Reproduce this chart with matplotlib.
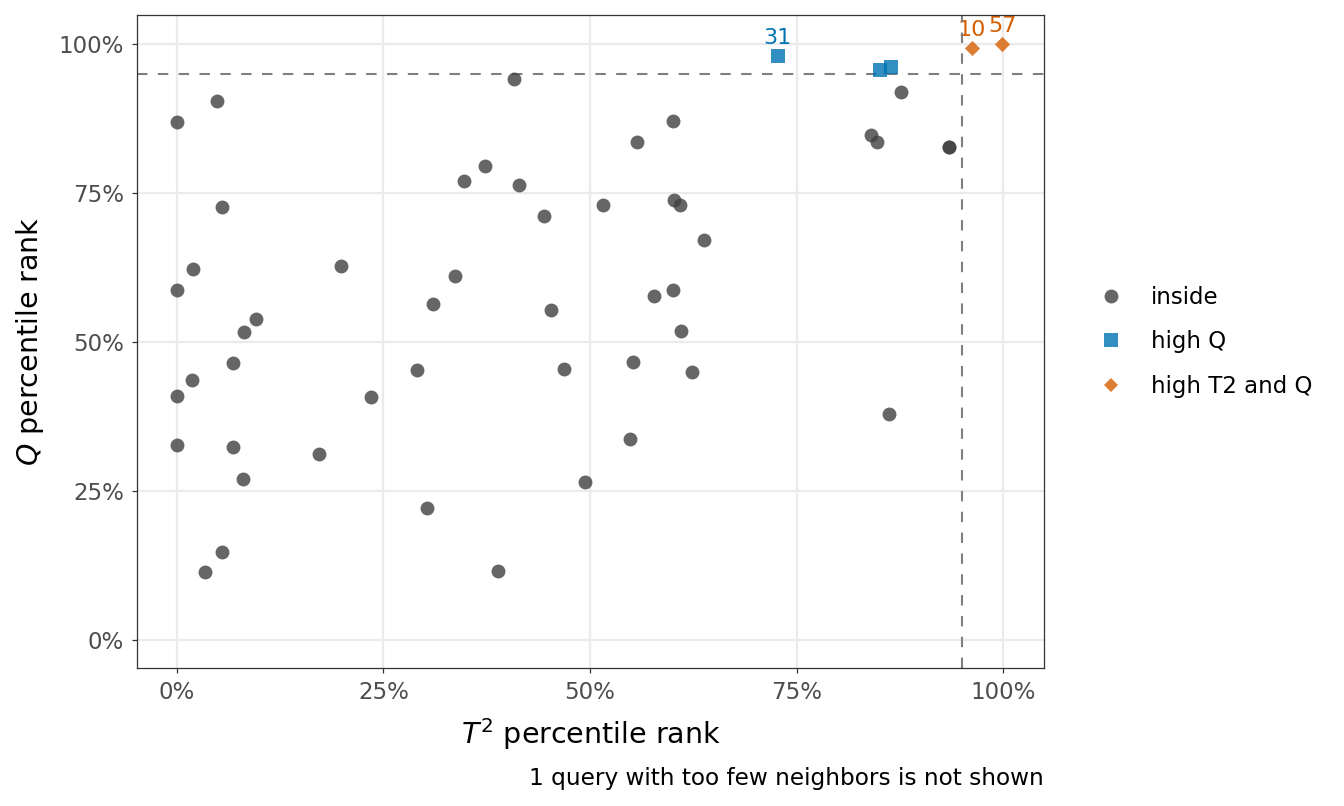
import matplotlib
matplotlib.use("Agg")
import matplotlib.pyplot as plt
from matplotlib.ticker import PercentFormatter
from matplotlib.lines import Line2D

# Dados (postos percentis T2 e Q)
inside_t2 = [0.000, 0.048, 0.000, 0.019, 0.055, 0.081, 0.096, 0.068, 0.000, 0.018,
             0.000, 0.068, 0.080, 0.054, 0.034, 0.172, 0.199, 0.235, 0.290, 0.303,
             0.310, 0.336, 0.348, 0.373, 0.408, 0.414, 0.444, 0.453, 0.469, 0.494,
             0.389, 0.516, 0.548, 0.552, 0.557, 0.578, 0.600, 0.601, 0.602, 0.609,
             0.610, 0.623, 0.638, 0.840, 0.848, 0.877, 0.862, 0.934, 0.934]
inside_q = [0.869, 0.904, 0.587, 0.622, 0.726, 0.516, 0.538, 0.465, 0.409, 0.436,
            0.327, 0.324, 0.270, 0.148, 0.114, 0.312, 0.628, 0.408, 0.453, 0.221,
            0.563, 0.610, 0.770, 0.796, 0.941, 0.764, 0.711, 0.554, 0.455, 0.265,
            0.115, 0.730, 0.337, 0.467, 0.836, 0.577, 0.587, 0.870, 0.739, 0.730,
            0.519, 0.449, 0.672, 0.847, 0.836, 0.919, 0.380, 0.828, 0.828]

highq_t2 = [0.727, 0.851, 0.864]
highq_q = [0.980, 0.956, 0.962]
highq_lab = ["31", "", ""]

both_t2 = [0.962, 0.999]
both_q = [0.994, 1.000]
both_lab = ["10", "57"]

limiar = 0.95

cor_inside = "#404040"
cor_azul = "#0072B2"
cor_laranja = "#D55E00"

fig = plt.figure(figsize=(13.44, 8.06), dpi=100)
ax = fig.add_axes([137 / 1344, 1 - 668 / 806, (1044 - 137) / 1344, (668 - 15) / 806])

ax.set_xlim(-0.0484, 1.0496)
ax.set_ylim(-0.047, 1.0487)
ax.set_xticks([0, 0.25, 0.5, 0.75, 1.0])
ax.set_yticks([0, 0.25, 0.5, 0.75, 1.0])
ax.xaxis.set_major_formatter(PercentFormatter(1.0, decimals=0))
ax.yaxis.set_major_formatter(PercentFormatter(1.0, decimals=0))
ax.grid(True, color="#ebebeb", linewidth=1.6, zorder=0)
ax.set_axisbelow(True)
for s in ax.spines.values():
    s.set_color("#333333")
    s.set_linewidth(0.9)
ax.tick_params(length=3.8, width=0.9, color="#333333", labelcolor="#4d4d4d",
               labelsize=16.5, pad=5.5)

ax.axhline(limiar, color="#7f7f7f", linestyle=(0, (5, 5)), linewidth=1.5, zorder=2)
ax.axvline(limiar, color="#7f7f7f", linestyle=(0, (5, 5)), linewidth=1.5, zorder=2)

ax.scatter(inside_t2, inside_q, s=100, marker="o", color=cor_inside, alpha=0.8,
           linewidths=0, zorder=3)
ax.scatter(highq_t2, highq_q, s=100, marker="s", color=cor_azul, alpha=0.8,
           linewidths=0, zorder=3)
ax.scatter(both_t2, both_q, s=60, marker="D", color=cor_laranja, alpha=0.8,
           linewidths=0, zorder=3)

for x, y, t in zip(highq_t2, highq_q, highq_lab):
    if t:
        ax.annotate(t, (x, y), xytext=(0, 8.5), textcoords="offset points",
                    ha="center", va="baseline", fontsize=16, color=cor_azul, zorder=4)
for x, y, t in zip(both_t2, both_q, both_lab):
    ax.annotate(t, (x, y), xytext=(0, 8.5), textcoords="offset points",
                ha="center", va="baseline", fontsize=16, color=cor_laranja, zorder=1)

ax.set_xlabel(r"$T^2$ percentile rank", fontsize=20.5, labelpad=9)
ax.set_ylabel(r"$Q$ percentile rank", fontsize=20.5, labelpad=9)

handles = [
    Line2D([], [], linestyle="none", marker="o", markersize=10, color=cor_inside,
           alpha=0.8, markeredgewidth=0, label="inside"),
    Line2D([], [], linestyle="none", marker="s", markersize=10, color=cor_azul,
           alpha=0.8, markeredgewidth=0, label="high Q"),
    Line2D([], [], linestyle="none", marker="D", markersize=7.6, color=cor_laranja,
           alpha=0.8, markeredgewidth=0, label="high T2 and Q"),
]
fig.legend(handles=handles, loc="center left", bbox_to_anchor=(1094 / 1344, 1 - 342 / 806),
           frameon=False, fontsize=16.5, handlelength=1.5, handletextpad=1.0,
           labelspacing=0.95, borderpad=0, borderaxespad=0)

fig.text(1044 / 1344, 1 - 778 / 806, "1 query with too few neighbors is not shown",
         ha="right", va="center", fontsize=16.7)

fig.savefig("out.png", dpi=100)
